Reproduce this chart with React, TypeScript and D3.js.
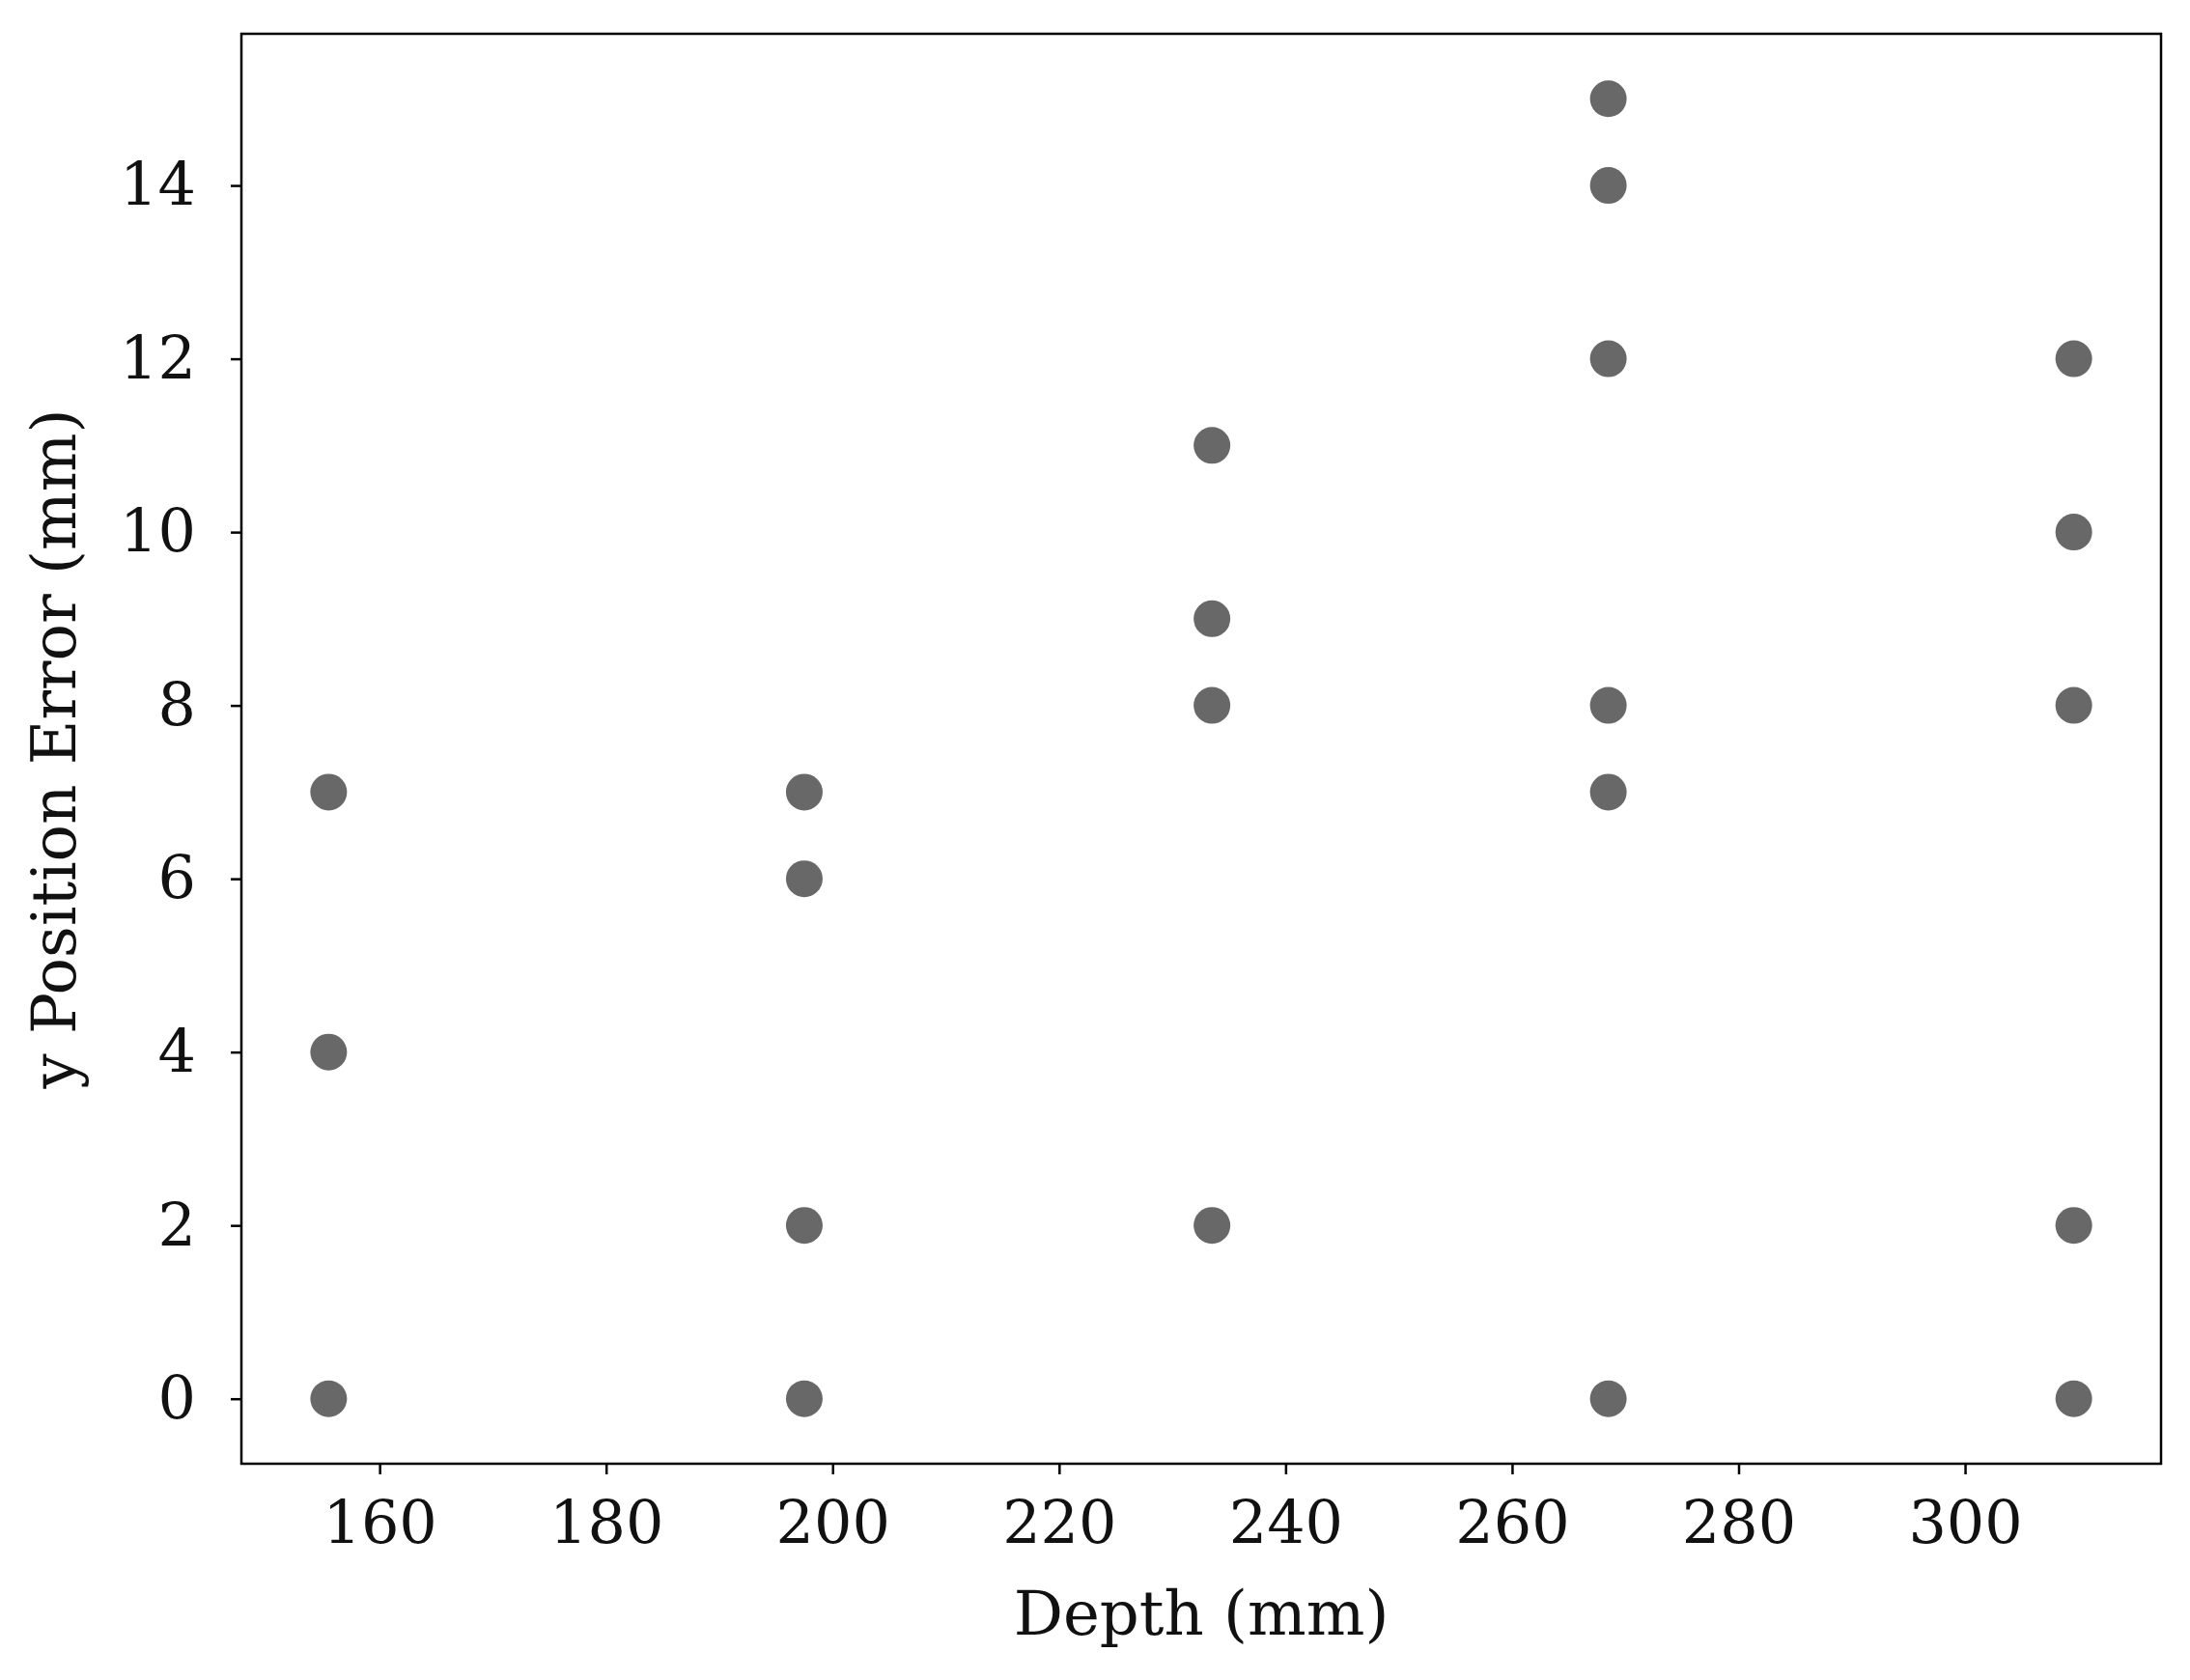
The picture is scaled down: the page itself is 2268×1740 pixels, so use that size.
// @ts-nocheck
import React, { useEffect, useRef } from 'react'
import * as d3 from 'd3'

// Depth (mm) of each measurement
const depthMm = [
    155.5, 155.5, 155.5,
    197.5, 197.5, 197.5, 197.5,
    233.5, 233.5, 233.5, 233.5,
    268.5, 268.5, 268.5, 268.5, 268.5, 268.5,
    309.6, 309.6, 309.6, 309.6, 309.6
]

// y position error (mm) of each measurement
const yErrorMm = [
    7, 4, 0,
    7, 6, 2, 0,
    11, 9, 8, 2,
    15, 14, 12, 8, 7, 0,
    12, 10, 8, 2, 0
]

const xTicks = [160, 180, 200, 220, 240, 260, 280, 300]
const yTicks = [0, 2, 4, 6, 8, 10, 12, 14]

const xLabel = 'Depth (mm)'
const yLabel = 'y Position Error (mm)'

const App = () => {
    const ref = useRef(null)

    useEffect(() => {
        const width = 2268,
            height = 1740,
            left = 250,
            right = 2238,
            top = 35,
            bottom = 1516,
            font = 'DejaVu Serif, serif'

        // matplotlib style 5% padding
        const pad = ([a, b]) => [a - (b - a) * 0.05, b + (b - a) * 0.05]

        const x = d3.scaleLinear(pad(d3.extent(depthMm)), [left, right])
        const y = d3.scaleLinear(pad(d3.extent(yErrorMm)), [bottom, top])

        const svg = d3.select(ref.current)
            .attr('width', width)
            .attr('height', height)
        svg.selectAll('*').remove()

        svg.append('rect')
            .attr('width', width)
            .attr('height', height)
            .attr('fill', '#fff')

        // points
        svg.append('g')
            .selectAll('circle')
            .data(depthMm)
            .join('circle')
            .attr('cx', d => x(d))
            .attr('cy', (d, i) => y(yErrorMm[i]))
            .attr('r', 19)
            .attr('fill', '#686868')

        // x-axis
        svg.append('g')
            .attr('transform', `translate(0, ${bottom})`)
            .call(d3.axisBottom(x).tickValues(xTicks).tickSize(11).tickPadding(27).tickSizeOuter(0))
            .call(g => g.select('.domain').remove())
            .call(g => g.selectAll('.tick line').attr('stroke', '#000').attr('stroke-width', 2.5))
            .call(g => g.selectAll('.tick text')
                .attr('font-family', font)
                .attr('font-size', 62)
                .attr('fill', '#111'))

        // y-axis
        svg.append('g')
            .attr('transform', `translate(${left}, 0)`)
            .call(d3.axisLeft(y).tickValues(yTicks).tickSize(11).tickPadding(36).tickSizeOuter(0))
            .call(g => g.select('.domain').remove())
            .call(g => g.selectAll('.tick line').attr('stroke', '#000').attr('stroke-width', 2.5))
            .call(g => g.selectAll('.tick text')
                .attr('font-family', font)
                .attr('font-size', 62)
                .attr('fill', '#111'))

        // frame
        svg.append('rect')
            .attr('x', left)
            .attr('y', top)
            .attr('width', right - left)
            .attr('height', bottom - top)
            .attr('fill', 'none')
            .attr('stroke', '#000')
            .attr('stroke-width', 2.5)

        // axis labels
        svg.append('text')
            .attr('x', (left + right) / 2)
            .attr('y', 1693)
            .attr('text-anchor', 'middle')
            .attr('font-family', font)
            .attr('font-size', 64)
            .attr('fill', '#111')
            .text(xLabel)

        svg.append('text')
            .attr('transform', `translate(78, ${(top + bottom) / 2}) rotate(-90)`)
            .attr('text-anchor', 'middle')
            .attr('font-family', font)
            .attr('font-size', 64)
            .attr('fill', '#111')
            .text(yLabel)
    }, [])

    return <svg ref={ref} width='2268' height='1740' style={{ position: 'absolute', left: 0, top: 0 }}></svg>
}

export default App
